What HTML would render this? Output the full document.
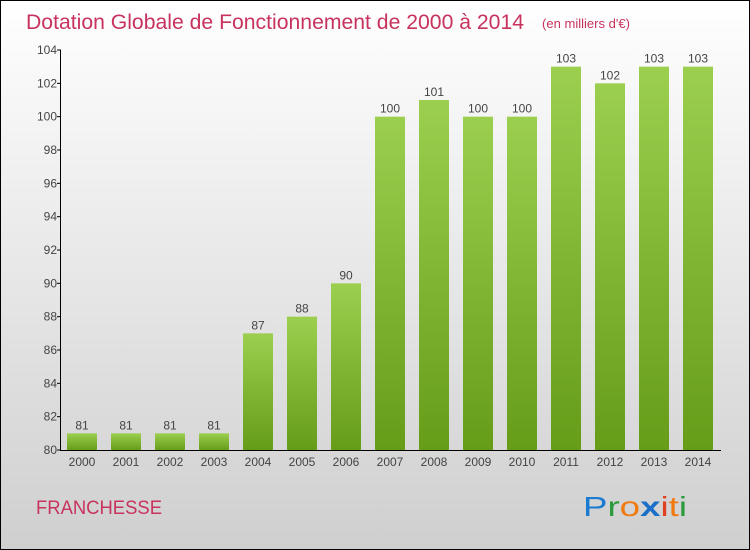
<!DOCTYPE html>
<html><head><meta charset="utf-8"><style>
body{margin:0}
svg{display:block;font-family:"Liberation Sans",sans-serif}
</style></head><body>
<svg width="750" height="550" viewBox="0 0 750 550">
<defs>
<linearGradient id="bg" x1="0" y1="0" x2="0" y2="1"><stop offset="0" stop-color="#ffffff"/><stop offset="1" stop-color="#cfcfcf"/></linearGradient>
<linearGradient id="bar" x1="0" y1="0" x2="0" y2="1"><stop offset="0" stop-color="#9ccf4f"/><stop offset="1" stop-color="#659c18"/></linearGradient>
</defs>
<rect x="0.5" y="0.5" width="749" height="549" fill="url(#bg)" stroke="#000"/>
<text x="26" y="29" font-size="21" fill="#c8335e" textLength="498" lengthAdjust="spacingAndGlyphs">Dotation Globale de Fonctionnement de 2000 à 2014</text>
<text x="542" y="28" font-size="13" fill="#c8335e" textLength="88" lengthAdjust="spacingAndGlyphs">(en milliers d'€)</text>
<g id="yaxis"></g>
<g id="bars"></g>
<g id="xaxis"></g>
<text x="36" y="514" font-size="19" fill="#c8335e" textLength="126" lengthAdjust="spacingAndGlyphs">FRANCHESSE</text>
<g font-size="28" font-family="'Liberation Sans',sans-serif">
<text x="583" y="516" fill="#1a7bd0" textLength="104" lengthAdjust="spacingAndGlyphs">P<tspan fill="#2a9a3a">r</tspan><tspan fill="#f07a10">o</tspan><tspan fill="#1a6fc8" font-weight="bold">x</tspan><tspan fill="#e04020">i</tspan><tspan fill="#f07a10">t</tspan><tspan fill="#2a9a3a">i</tspan></text>
</g>
</svg>
<script>
const categories=["2000","2001","2002","2003","2004","2005","2006","2007","2008","2009","2010","2011","2012","2013","2014"];
const values=[81,81,81,81,87,88,90,100,101,100,100,103,102,103,103];
const yTicks=[80,82,84,86,88,90,92,94,96,98,100,102,104];
const NS="http://www.w3.org/2000/svg";
const y=v=>450-(v-80)*400/24;
const x=i=>82+i*44;
function mk(t,a,p,txt){const e=document.createElementNS(NS,t);for(const k in a)e.setAttribute(k,a[k]);if(txt!==undefined)e.textContent=txt;p.appendChild(e);return e;}
const ya=document.getElementById('yaxis'),xa=document.getElementById('xaxis'),bg=document.getElementById('bars');
mk('line',{x1:60.5,y1:50,x2:60.5,y2:450,stroke:'#000'},ya);
yTicks.forEach(t=>{
 mk('line',{x1:57,x2:61,y1:y(t),y2:y(t),stroke:'#000'},ya);
 const l=mk('text',{x:57,y:y(t)+4,'font-size':12,'text-anchor':'end',fill:'#444'},ya,t);
 
 
});
values.forEach((v,i)=>{
 const r=mk('rect',{x:x(i)-15,y:y(v),width:30,height:450-y(v),fill:'url(#bar)'},bg);
 
 
 const t=mk('text',{x:x(i),y:y(v)-4,'font-size':12,'text-anchor':'middle',fill:'#444'},bg,v);
 
 
 const c=mk('text',{x:x(i),y:466,'font-size':12,'text-anchor':'middle',fill:'#444'},xa,categories[i]);
 
 
});
mk('line',{x1:60,y1:450.5,x2:721,y2:450.5,stroke:'#000'},xa);
</script>
</body></html>
